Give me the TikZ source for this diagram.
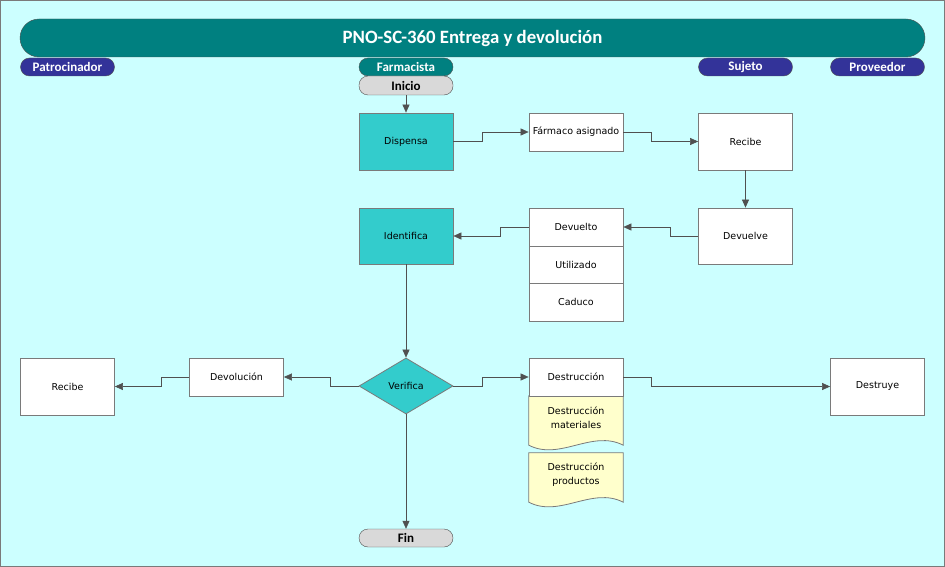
\documentclass[tikz,border=0pt]{standalone}
\usepackage{fontspec}
\setmainfont{DejaVu Sans}
\newfontfamily\hdfont{Carlito}
\usetikzlibrary{arrows.meta,shapes.geometric,backgrounds}
\definecolor{pagebg}{HTML}{CCFFFF}
\definecolor{tealhd}{HTML}{008080}
\definecolor{bluehd}{HTML}{333399}
\definecolor{procfill}{HTML}{33CCCC}
\definecolor{termfill}{HTML}{D9D9D9}
\definecolor{docfill}{HTML}{FFFFCC}
\definecolor{edge}{HTML}{7A7A7A}
\definecolor{wire}{HTML}{505050}
\begin{document}
\begin{tikzpicture}[x=1pt, y=-1pt,
    every node/.style={font=\fontsize{9.5}{14}\selectfont, inner sep=2pt, align=center},
    hd/.style={draw=wire, rounded corners=9pt, minimum width=94pt, minimum height=18pt,
      text=white, font=\hdfont\bfseries\fontsize{13}{14}\selectfont},
    term/.style={hd, fill=termfill, text=black},
    box/.style={draw=edge, thick, fill=white, minimum width=94pt, minimum height=57pt},
    smallbox/.style={box, minimum height=38pt},
    proc/.style={box, fill=procfill},
    decide/.style={diamond, draw=edge, thick, fill=procfill, minimum width=94pt,
      minimum height=56pt, inner sep=0pt},
    docnode/.style={minimum width=94pt, minimum height=44pt},
    flow/.style={draw=wire, semithick, -{Triangle[length=8pt,width=7pt]}},
    ]
  \useasboundingbox (0,0) rectangle (945,567);
  \begin{scope}[on background layer]
    \draw[edge, fill=pagebg] (0.5,0.5) rectangle (944.5,566.5);
  \end{scope}

  % title and lanes
  \node[draw=wire, fill=tealhd, rounded corners=19pt, minimum width=905pt, minimum height=38pt,
    text=white, font=\hdfont\bfseries\fontsize{18.8}{20}\selectfont] (title) at (472.5,38)
    {PNO-SC-360 Entrega y devolución};
  \node[hd, fill=bluehd] (patr) at (67.5,67) {Patrocinador};
  \node[hd, fill=tealhd] (farm) at (406,67) {Farmacista};
  \node[hd, fill=bluehd] (suj) at (745.5,67) {Sujeto};
  \node[hd, fill=bluehd] (prov) at (877.5,67) {Proveedor};

  % flow
  \node[term, minimum height=19pt] (ini) at (406,85.5) {Inicio};
  \node[proc] (disp) at (406,141.5) {Dispensa};
  \node[smallbox] (fasig) at (576,132) {Fármaco asignado};
  \node[box] (rec1) at (745.5,141.5) {Recibe};
  \node[box, minimum height=56pt] (devu) at (745.5,236) {Devuelve};
  \node[smallbox] (dvt) at (576,227) {Devuelto};
  \node[smallbox, minimum height=37pt] (util) at (576,264.5) {Utilizado};
  \node[smallbox] (cad) at (576,302) {Caduco};
  \node[proc, minimum height=56pt] (ident) at (406,236) {Identifica};
  \node[decide] (verif) at (406,386) {Verifica};
  \node[smallbox] (devol) at (236.5,377) {Devolución};
  \node[box] (rec2) at (67.5,386.5) {Recibe};
  \node[smallbox] (destr) at (576,377) {Destrucción};
  \node[box] (dstye) at (877.5,386.5) {Destruye};
  \node[docnode] (dmat) at (576,418) {Destrucción\\materiales};
  \node[docnode] (dprod) at (576,475) {Destrucción\\productos};
  \node[term] (fin) at (406,538) {Fin};

  \begin{scope}[on background layer]
    \foreach \d in {dmat,dprod}
      \draw[edge, thick, fill=docfill] (\d.north west) -- (\d.north east)
        -- ([yshift=-5pt]\d.south east)
        .. controls +(-31,-16) and +(31,16) .. ([yshift=-5pt]\d.south west) -- cycle;
  \end{scope}

  \draw[flow] (ini) -- (disp);
  \draw[flow] (disp.east) -- ++(29,0) |- (fasig.west);
  \draw[flow] (fasig.east) -- ++(28,0) |- (rec1.west);
  \draw[flow] (rec1) -- (devu);
  \draw[flow] (devu.west) -- ++(-28,0) |- (dvt.east);
  \draw[flow] (dvt.west) -- ++(-28,0) |- (ident.east);
  \draw[flow] (ident) -- (verif);
  \draw[flow] (verif.west) -- ++(-28,0) |- (devol.east);
  \draw[flow] (devol.west) -- ++(-28,0) |- (rec2.east);
  \draw[flow] (verif.east) -- ++(29,0) |- (destr.west);
  \draw[flow] (destr.east) -- ++(28,0) |- (dstye.west);
  \draw[flow] (verif) -- (fin);
\end{tikzpicture}
\end{document}
